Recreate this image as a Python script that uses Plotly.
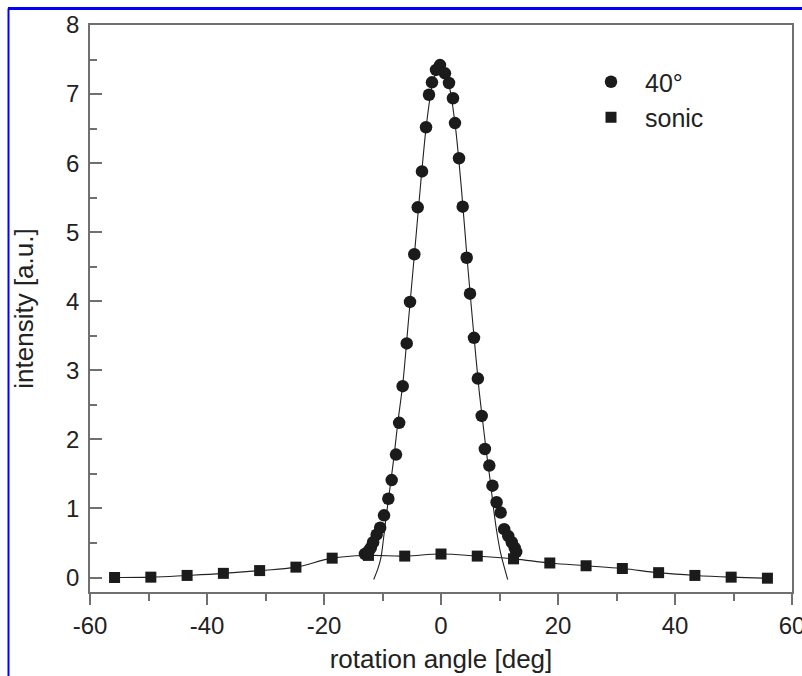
import plotly.graph_objects as go

# ---- data ----
circ_x = [-13.0, -12.4, -12.0, -11.6, -11.0, -10.4, -9.74, -9.0, -8.43, -7.69, -7.15, -6.55,
          -5.86, -5.30, -4.56, -3.98, -3.25, -2.56, -2.05, -1.54, -0.85, -0.17, 0.68, 1.37,
          2.05, 2.39, 3.08, 3.71, 4.39, 4.96, 5.64, 6.30, 6.96, 7.50, 8.26, 8.80, 9.50,
          10.2, 10.8, 11.5, 12.1, 12.6, 12.85]
circ_y = [0.34, 0.38, 0.43, 0.51, 0.62, 0.72, 0.90, 1.14, 1.41, 1.78, 2.24, 2.77,
          3.39, 3.99, 4.68, 5.36, 5.88, 6.52, 6.99, 7.17, 7.35, 7.42, 7.30, 7.16,
          6.94, 6.58, 6.07, 5.37, 4.63, 4.11, 3.47, 2.88, 2.34, 1.86, 1.62, 1.33, 1.09,
          0.94, 0.70, 0.60, 0.51, 0.43, 0.37]

circ_fit_x = [-11.5, -10.7, -10.26, -9.86, -9.45, -9.0, -8.55, -7.98, -7.4, -6.5, -5.5, -4.5,
              -3.5, -2.5, -1.5, -0.5, 0.0, 0.5, 1.5, 2.5, 3.5, 4.5, 5.5, 6.5, 7.1, 7.8,
              8.4, 8.95, 9.5, 10.1, 10.65, 11.4]
circ_fit_y = [-0.03, 0.15, 0.29, 0.54, 0.83, 1.12, 1.41, 1.79, 2.23, 2.83, 3.78, 4.72,
              5.68, 6.55, 7.13, 7.38, 7.42, 7.37, 7.08, 6.50, 5.62, 4.58, 3.62, 2.72, 2.28, 1.79,
              1.41, 1.02, 0.68, 0.39, 0.20, -0.03]

sq_x = [-55.8, -49.6, -43.4, -37.2, -31.0, -24.8, -18.6, -12.4, -6.2, 0.0,
        6.2, 12.4, 18.6, 24.8, 31.0, 37.2, 43.4, 49.6, 55.8]
sq_y = [0.00, 0.005, 0.03, 0.06, 0.10, 0.15, 0.28, 0.32, 0.31, 0.34,
        0.31, 0.27, 0.21, 0.17, 0.13, 0.07, 0.03, 0.005, -0.01]

x_ticks = [-60, -40, -20, 0, 20, 40, 60]
y_ticks = [0, 1, 2, 3, 4, 5, 6, 7, 8]

FONT = "Arial, 'Liberation Sans', Helvetica, sans-serif"
INK = "#1b1b1b"
AX = "#707070"

fig = go.Figure()

fig.add_trace(go.Scatter(x=sq_x, y=sq_y, mode="lines",
                         line=dict(color="#222", width=1.1, shape="spline", smoothing=1.2),
                         showlegend=False, hoverinfo="skip"))
fig.add_trace(go.Scatter(x=circ_fit_x, y=circ_fit_y, mode="lines",
                         line=dict(color="#222", width=1.1, shape="spline", smoothing=0.8),
                         showlegend=False, hoverinfo="skip"))
fig.add_trace(go.Scatter(x=circ_x, y=circ_y, mode="markers", name="40°",
                         marker=dict(symbol="circle", size=12.5, color=INK, line=dict(width=0))))
fig.add_trace(go.Scatter(x=sq_x, y=sq_y, mode="markers", name="sonic",
                         marker=dict(symbol="square", size=11, color=INK, line=dict(width=0))))

# blue frame lines (page border in the reference)
L, R, T, B = 90, 792, 25, 592
def px(v): return (v - L) / (R - L)
def py(v): return (B - v) / (B - T)
shapes = [
    dict(type="line", xref="paper", yref="paper", x0=px(8.5), x1=px(8.5), y0=py(8.5), y1=py(680),
         line=dict(color="#0000ff", width=2)),
    dict(type="line", xref="paper", yref="paper", x0=px(8), x1=px(805), y0=py(8.5), y1=py(8.5),
         line=dict(color="#0000ff", width=3)),
]

fig.update_layout(
    width=802, height=676,
    margin=dict(l=L, r=802 - R, t=T, b=676 - B, autoexpand=False),
    paper_bgcolor="white", plot_bgcolor="white",
    font=dict(family=FONT, color="#222", size=24),
    shapes=shapes,
    legend=dict(x=px(577), y=py(59), xanchor="left", yanchor="top",
                bgcolor="rgba(0,0,0,0)", borderwidth=0, itemwidth=58,
                font=dict(size=25, family=FONT, color="#222"), itemsizing="trace"),
    xaxis=dict(range=[-60, 60], tickvals=x_ticks, ticktext=[str(v) for v in x_ticks],
               ticks="outside", ticklen=11, tickwidth=1.5, tickcolor=AX,
               minor=dict(dtick=10, ticks="outside", ticklen=7, tickwidth=1.5, tickcolor=AX),
               showline=True, linecolor=AX, linewidth=1.5, mirror=True,
               showgrid=False, zeroline=False, automargin=False, ticklabeloverflow="allow",
               tickfont=dict(size=24, family=FONT, color="#222"),
               title=dict(text="rotation angle [deg]", font=dict(size=26, family=FONT, color="#222"), standoff=12)),
    yaxis=dict(range=[-0.21, 8], tickvals=y_ticks, ticktext=[str(v) for v in y_ticks],
               ticks="inside", ticklen=12, tickwidth=1.5, tickcolor=AX,
               minor=dict(dtick=0.5, ticks="inside", ticklen=7, tickwidth=1.5, tickcolor=AX),
               showline=True, linecolor=AX, linewidth=1.5, mirror=True,
               showgrid=False, zeroline=False, automargin=False, ticklabeloverflow="allow",
               tickfont=dict(size=24, family=FONT, color="#222"), ticklabelstandoff=4,
               title=dict(text="intensity [a.u.]", font=dict(size=26, family=FONT, color="#222"), standoff=25)),
)

fig.write_html("out.html", config={"displayModeBar": False},
               post_script="document.body.style.margin='0';document.body.style.overflow='hidden';")
